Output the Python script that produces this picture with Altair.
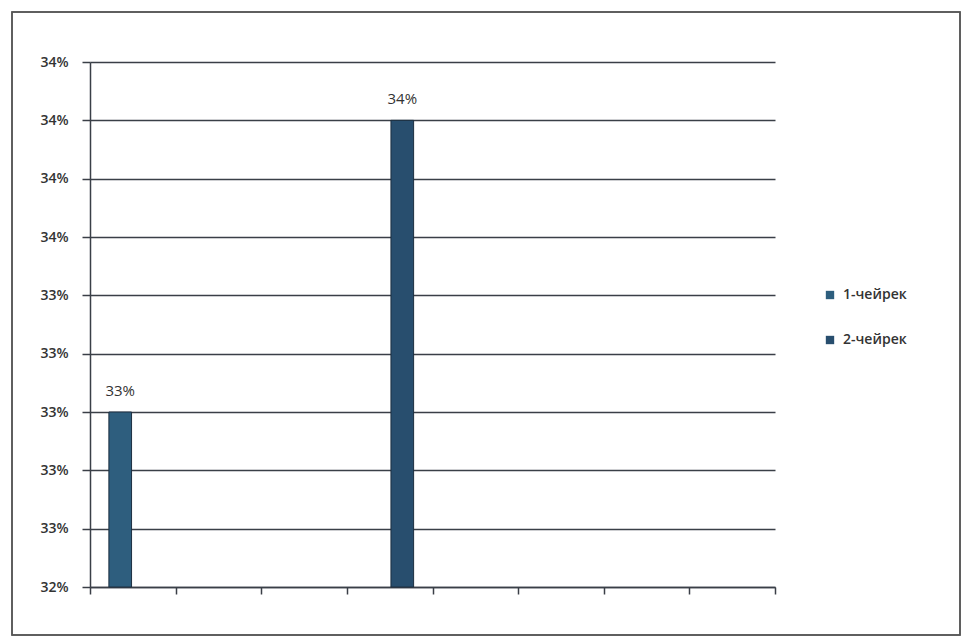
import altair as alt
import pandas as pd

categories = ["1", "2", "3", "4", "5", "6", "7", "8"]
series_names = ["1-чейрек", "2-чейрек"]
bar_category = ["1", "4"]
bar_series = ["1-чейрек", "2-чейрек"]
bar_values = [0.330, 0.340]
y_ticks = [0.324, 0.326, 0.328, 0.330, 0.332, 0.334, 0.336, 0.338, 0.340, 0.342]
colors = ["#2E5E7E", "#284E6E"]

df = pd.DataFrame({"cat": bar_category, "series": bar_series, "value": bar_values})

FONT = "Open Sans"
TXT = "#333333"
LINE = "#3a3f47"

x = alt.X("cat:N", scale=alt.Scale(domain=categories, paddingInner=0, paddingOuter=0),
          axis=alt.Axis(title=None, labels=False, tickBand="extent", ticks=True, tickSize=7,
                        tickColor=LINE, domainColor=LINE, domainWidth=1.5, tickWidth=1.5, grid=False))
xoff = alt.XOffset("series:N", scale=alt.Scale(domain=series_names, paddingInner=0.1, paddingOuter=0.75))
y = alt.Y("value:Q", scale=alt.Scale(domain=[y_ticks[0], y_ticks[-1]], nice=False, zero=False),
          axis=alt.Axis(title=None, values=y_ticks, format=".0%", grid=True, gridColor=LINE,
                        gridWidth=1.5, tickSize=8, tickColor=LINE, tickWidth=1.5,
                        domainColor=LINE, domainWidth=1.5, labelPadding=14,
                        labelFont=FONT, labelFontSize=14, labelFontWeight=600, labelColor=TXT))

bars = alt.Chart(df).mark_bar(stroke="#1c2f40", strokeWidth=1).encode(
    x=x, xOffset=xoff, y=y, y2=alt.datum(y_ticks[0]),
    color=alt.Color("series:N", scale=alt.Scale(domain=series_names, range=colors),
                    legend=alt.Legend(title=None, orient="none", legendX=733, legendY=226,
                                      symbolType="square", symbolSize=70, symbolStrokeWidth=0,
                                      labelFont=FONT, labelFontSize=14, labelFontWeight=600,
                                      labelColor=TXT, rowPadding=31, labelOffset=6)),
)

labels = alt.Chart(df).mark_text(dy=-21, font=FONT, fontSize=15, fontWeight=500, color=TXT).encode(
    x=x, xOffset=xoff, y=y, text=alt.Text("value:Q", format=".0%"),
)

frame = alt.Chart(df).mark_rect(fill=None, stroke="#555555", strokeWidth=1.5).encode(
    x=alt.value(-78), x2=alt.value(870), y=alt.value(-50), y2=alt.value(573),
)

chart = alt.layer(frame, bars, labels).properties(
    width=685, height=525,
    autosize=alt.AutoSizeParams(type="none"),
    padding={"left": 82, "top": 54, "right": 187, "bottom": 49},
    background="white",
).configure_view(stroke=None)

chart.save("out.html", embed_options={"renderer": "svg", "actions": False})
